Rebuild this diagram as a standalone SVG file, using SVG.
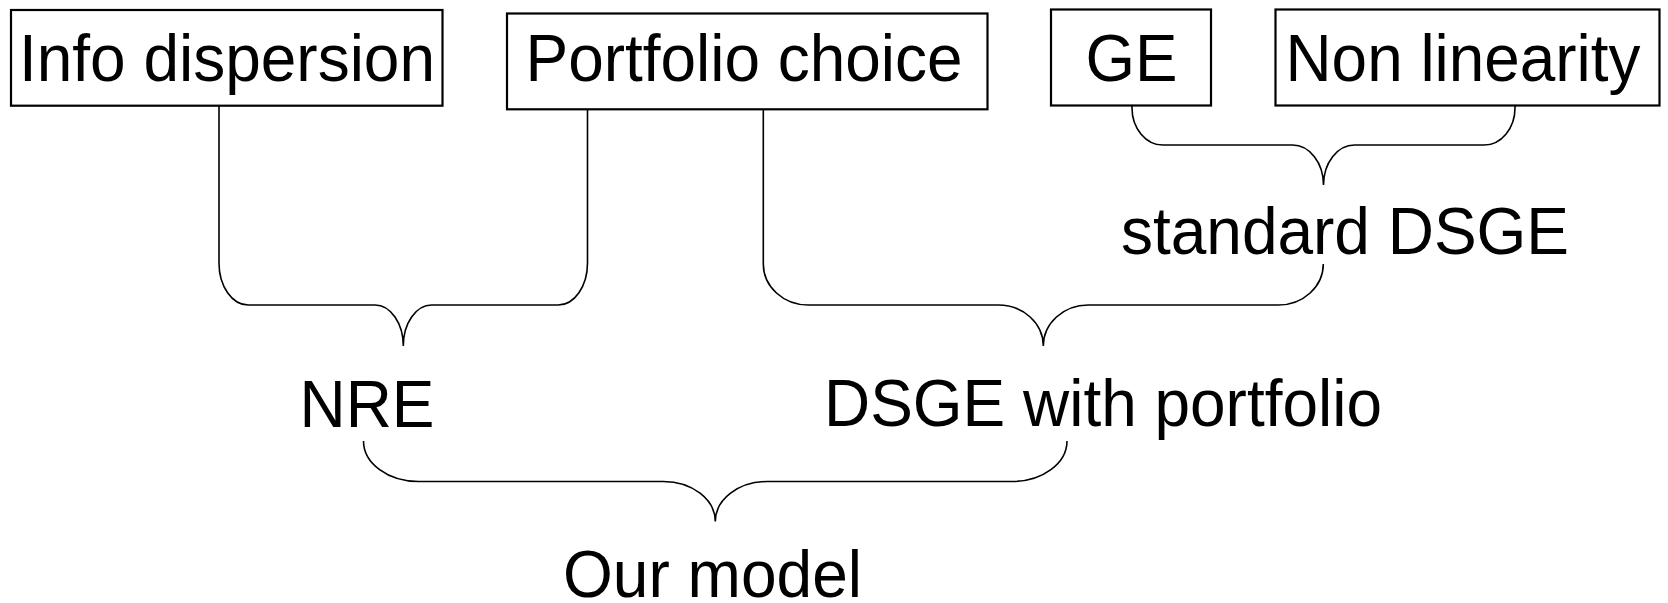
<svg xmlns="http://www.w3.org/2000/svg" width="1668" height="603" viewBox="0 0 1668 603">
<style>
.box{fill:#fff;stroke:#000;stroke-width:2.2}
.lbl{font-family:"Liberation Sans",Arial,sans-serif;font-size:67px;fill:#000;text-anchor:middle}
.brace{fill:none;stroke:#000;stroke-width:1.6}
</style>
<rect width="1668" height="603" fill="#fff"/>
<g id="connectors">
<path class="brace" d="M219,106 V263 C219,286.2 232.1,305 248.3,305 H375 C390.6,305 403.3,323.4 403.3,346 C403.3,323.4 416,305 431.6,305 H558.2 C574.4,305 587.5,286.2 587.5,263 V105"/>
<path class="brace" d="M763.3,105 V264 C763.3,286.6 783.4,305 808.3,305 H998.3 C1023.2,305 1043.3,323.4 1043.3,346 C1043.3,323.4 1063.4,305 1088.3,305 H1278.3 C1303.2,305 1323.3,286.6 1323.3,264"/>
<path class="brace" d="M1132,106 V108 C1132,128.4 1145.9,145 1163,145 H1292.5 C1309.6,145 1323.5,162.9 1323.5,185 C1323.5,162.9 1337.4,145 1354.5,145 H1484 C1501.1,145 1515,128.4 1515,108 V106"/>
<path class="brace" d="M363.5,441 C363.5,463.4 388.1,481.5 418.5,481.5 H663.3 C692,481.5 715.3,499.4 715.3,521.5 C715.3,499.4 738.6,481.5 767.3,481.5 H1012 C1042.4,481.5 1067,463.4 1067,441"/>
</g>
<g id="info-dispersion">
<rect class="box" x="11" y="10" width="431.5" height="95.7"/>
<text class="lbl" x="227" y="81" textLength="416" lengthAdjust="spacingAndGlyphs">Info dispersion</text>
</g>
<g id="portfolio-choice">
<rect class="box" x="507" y="13.5" width="480.5" height="95.8"/>
<text class="lbl" x="744" y="80.5" textLength="437" lengthAdjust="spacingAndGlyphs">Portfolio choice</text>
</g>
<g id="ge">
<rect class="box" x="1051" y="9.5" width="160" height="96"/>
<text class="lbl" x="1131.5" y="81" textLength="92" lengthAdjust="spacingAndGlyphs">GE</text>
</g>
<g id="non-linearity">
<rect class="box" x="1275.5" y="9.5" width="384" height="96"/>
<text class="lbl" x="1463" y="81" textLength="355" lengthAdjust="spacingAndGlyphs">Non linearity</text>
</g>
<g id="standard-dsge">
<text class="lbl" x="1345" y="254" textLength="448" lengthAdjust="spacingAndGlyphs">standard DSGE</text>
</g>
<g id="nre">
<text class="lbl" x="367" y="427" textLength="135" lengthAdjust="spacingAndGlyphs">NRE</text>
</g>
<g id="dsge-with-portfolio">
<text class="lbl" x="1103" y="426" textLength="558" lengthAdjust="spacingAndGlyphs">DSGE with portfolio</text>
</g>
<g id="our-model">
<text class="lbl" x="712.5" y="597" textLength="299" lengthAdjust="spacingAndGlyphs">Our model</text>
</g>
</svg>
